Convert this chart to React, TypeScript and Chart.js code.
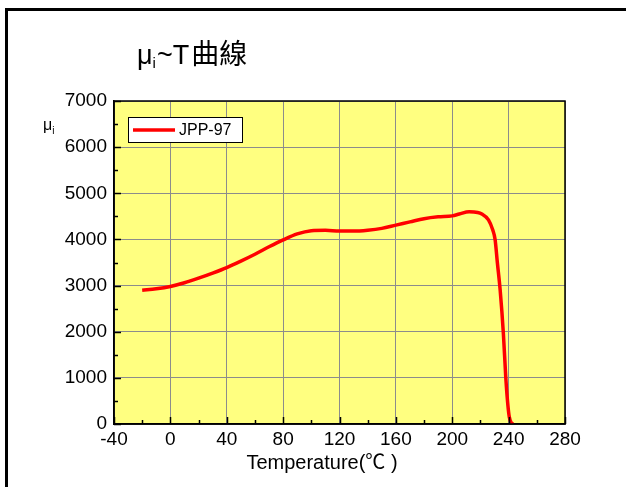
import React, { useEffect, useRef } from "react";
import { Chart, registerables } from "chart.js";

Chart.register(...registerables);

const temperatures = [-20, -10, 0, 10, 20, 30, 40, 50, 60, 70, 80, 90, 100, 110, 120, 130, 140, 150, 160, 170, 180, 190, 200, 205, 212, 218, 221, 225.7, 228.7, 230.4, 232, 234, 236.3, 238, 239.5, 240.5, 242, 243.4];
const muValues = [2900, 2930, 2980, 3060, 3160, 3270, 3390, 3530, 3680, 3840, 3990, 4120, 4190, 4200, 4180, 4180, 4200, 4240, 4310, 4380, 4450, 4490, 4510, 4550, 4600, 4585, 4550, 4425, 4210, 4000, 3500, 2900, 1950, 1000, 400, 150, 20, 0];
const xTickValues = [-40, 0, 40, 80, 120, 160, 200, 240, 280];
const yTickValues = [0, 1000, 2000, 3000, 4000, 5000, 6000, 7000];
const seriesName = "JPP-97";
const chartTitleMain = "μ";
const chartTitleSub = "i";
const chartTitleRest = "~T曲線";
const xAxisTitle = "Temperature(℃ )";
const yAxisTitleMain = "μ";
const yAxisTitleSub = "i";

const FONT = "'Liberation Sans', Arial, 'Noto Sans CJK TC', sans-serif";

const decorPlugin = {
  id: "decor",
  beforeDraw(chart: any) {
    const { ctx, chartArea } = chart;
    ctx.save();
    ctx.fillStyle = "#ffffff";
    ctx.fillRect(0, 0, chart.width, chart.height);
    ctx.fillStyle = "#ffff80";
    ctx.fillRect(chartArea.left, chartArea.top, chartArea.right - chartArea.left, chartArea.bottom - chartArea.top);
    ctx.restore();
  },
  afterDraw(chart: any) {
    const { ctx, chartArea } = chart;
    const xs = chart.scales.x;
    const ys = chart.scales.y;
    ctx.save();
    ctx.strokeStyle = "#000";
    ctx.lineWidth = 1.5;
    ctx.strokeRect(chartArea.left, chartArea.top, chartArea.right - chartArea.left, chartArea.bottom - chartArea.top);
    ctx.lineWidth = 1.5;
    ctx.beginPath();
    for (let v = -40; v <= 280; v += 20) {
      const px = Math.round(xs.getPixelForValue(v)) + 0.5;
      const len = v % 40 === 0 ? 7 : 4;
      ctx.moveTo(px, chartArea.bottom);
      ctx.lineTo(px, chartArea.bottom - len);
    }
    for (let v = 0; v <= 7000; v += 500) {
      const py = Math.round(ys.getPixelForValue(v)) + 0.5;
      const len = v % 1000 === 0 ? 7 : 4;
      ctx.moveTo(chartArea.left, py);
      ctx.lineTo(chartArea.left + len, py);
    }
    ctx.stroke();

    // legend
    const lx = 128, ly = 117, lw = 114, lh = 25;
    ctx.fillStyle = "#fff";
    ctx.fillRect(lx, ly, lw, lh);
    ctx.strokeStyle = "#000";
    ctx.lineWidth = 1;
    ctx.strokeRect(lx + 0.5, ly + 0.5, lw, lh);
    ctx.strokeStyle = "#ff0000";
    ctx.lineWidth = 3.5;
    ctx.beginPath();
    ctx.moveTo(lx + 5, ly + 13);
    ctx.lineTo(lx + 47, ly + 13);
    ctx.stroke();
    ctx.fillStyle = "#000";
    ctx.font = `16px ${FONT}`;
    ctx.textBaseline = "middle";
    ctx.textAlign = "left";
    ctx.fillText(seriesName, lx + 51, ly + 13.5);

    // title
    ctx.textBaseline = "alphabetic";
    ctx.font = `27px ${FONT}`;
    let tx = 137;
    const ty = 64;
    ctx.fillText(chartTitleMain, tx, ty);
    tx += ctx.measureText(chartTitleMain).width;
    ctx.font = `15px ${FONT}`;
    ctx.fillText(chartTitleSub, tx, ty + 4);
    tx += ctx.measureText(chartTitleSub).width + 1;
    ctx.font = `27px ${FONT}`;
    ctx.fillText(chartTitleRest.slice(0, 2), tx, ty);
    tx += ctx.measureText(chartTitleRest.slice(0, 2)).width + 2;
    ctx.font = `28px ${FONT}`;
    ctx.fillText(chartTitleRest.slice(2), tx, ty);

    // y axis title
    ctx.font = `16px ${FONT}`;
    let yx = 43;
    const yy = 130;
    ctx.fillText(yAxisTitleMain, yx, yy);
    yx += ctx.measureText(yAxisTitleMain).width;
    ctx.font = `10px ${FONT}`;
    ctx.fillText(yAxisTitleSub, yx, yy + 4);

    // x axis title
    ctx.font = `20px ${FONT}`;
    ctx.textAlign = "center";
    ctx.fillText(xAxisTitle, 322, 469);

    // outer frame
    ctx.fillStyle = "#000";
    ctx.fillRect(5, 8, chart.width - 5, 3);
    ctx.fillRect(5, 8, 3, chart.height - 8);
    ctx.restore();
  },
};

export default function App() {
  const ref = useRef<HTMLCanvasElement | null>(null);
  useEffect(() => {
    if (!ref.current) return;
    const chart = new Chart(ref.current, {
      type: "line",
      data: {
        datasets: [
          {
            label: seriesName,
            data: temperatures.map((t, i) => ({ x: t, y: muValues[i] })),
            borderColor: "#ff0000",
            borderWidth: 3.5,
            pointRadius: 0,
            fill: false,
            cubicInterpolationMode: "monotone",
          },
        ],
      },
      options: {
        animation: false,
        responsive: false,
        devicePixelRatio: 1,
        layout: { padding: { left: 54, top: 101, right: 61, bottom: 13 } },
        plugins: { legend: { display: false }, tooltip: { enabled: false }, title: { display: false } },
        scales: {
          x: {
            type: "linear",
            min: -40,
            max: 280,
            afterBuildTicks: (s: any) => {
              s.ticks = xTickValues.map((v) => ({ value: v }));
            },
            afterFit: (s: any) => {
              s.height = 50;
            },
            grid: { color: "#8c8c8c", lineWidth: 1, drawTicks: false },
            border: { display: true, color: "#000", width: 1.5 },
            ticks: { color: "#000", font: { family: FONT, size: 19 }, padding: 4, maxRotation: 0, autoSkip: false, callback: (v: any) => String(v) },
          },
          y: {
            type: "linear",
            min: 0,
            max: 7000,
            afterBuildTicks: (s: any) => {
              s.ticks = yTickValues.map((v) => ({ value: v }));
            },
            afterFit: (s: any) => {
              s.width = 60;
            },
            grid: { color: "#8c8c8c", lineWidth: 1, drawTicks: false },
            border: { display: true, color: "#000", width: 1.5 },
            ticks: { color: "#000", font: { family: FONT, size: 19 }, padding: 7, autoSkip: false, callback: (v: any) => String(v) },
          },
        },
      },
      plugins: [decorPlugin],
    } as any);
    return () => chart.destroy();
  }, []);
  return (
    <div style={{ position: "fixed", left: 0, top: 0, width: 626, height: 487, background: "#fff" }}>
      <canvas ref={ref} width={626} height={487} style={{ display: "block" }} />
    </div>
  );
}
